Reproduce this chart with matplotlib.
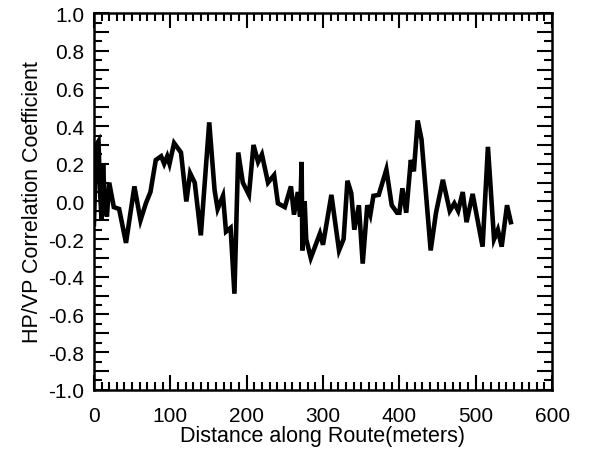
import numpy as np
import matplotlib
matplotlib.use("Agg")
import matplotlib.pyplot as plt
from matplotlib.ticker import MultipleLocator, FuncFormatter

# distance along route (m) and HP/VP correlation coefficient
distance = [0, 3, 6, 8, 10, 12, 14, 17, 20, 26, 33, 42, 53, 61, 68, 74, 81, 88,
            92, 96, 99, 105, 114, 121, 126, 132, 140, 151, 158, 162, 169, 173,
            179, 184, 189, 195, 203, 209, 215, 220, 228, 236, 241, 250, 258, 262,
            267, 270, 272, 273, 276, 278, 284, 296, 300, 311, 321, 327, 332, 337,
            341, 347, 352, 358, 362, 366, 373, 383, 390, 397, 400, 404, 409, 415,
            419, 424, 429, 441, 448, 457, 466, 472, 477, 483, 488, 496, 509, 516,
            524, 529, 534, 541, 546]
corr = [-0.12, 0.30, 0.32, 0.05, -0.10, 0.20, 0.00, -0.08, 0.10, -0.03, -0.04,
        -0.22, 0.08, -0.10, -0.01, 0.05, 0.22, 0.24, 0.20, 0.24, 0.20, 0.31, 0.26,
        0.00, 0.15, 0.10, -0.18, 0.42, 0.06, -0.04, 0.03, -0.16, -0.14, -0.49,
        0.26, 0.10, 0.035, 0.30, 0.21, 0.25, 0.10, 0.14, -0.01, -0.03, 0.08,
        -0.07, 0.05, -0.08, 0.21, -0.26, 0.00, -0.20, -0.30, -0.17, -0.23, 0.035,
        -0.26, -0.20, 0.11, 0.045, -0.15, -0.02, -0.33, -0.02, -0.07, 0.03, 0.035,
        0.17, -0.02, -0.06, -0.06, 0.07, -0.06, 0.22, 0.16, 0.43, 0.33, -0.26,
        -0.06, 0.115, -0.05, -0.01, -0.05, 0.05, -0.11, 0.04, -0.24, 0.29, -0.20,
        -0.15, -0.24, -0.02, -0.11]

x_ticks = [0, 100, 200, 300, 400, 500, 600]

plt.rcParams['font.family'] = ['Liberation Sans', 'DejaVu Sans']

fig = plt.figure(figsize=(6.06, 4.56), dpi=100)
ax = fig.add_axes([0.155, 0.143, 0.756, 0.826])

ax.plot(distance, corr, color='black', lw=3.3, solid_joinstyle='miter')

ax.set_xlim(0, 600)
ax.set_ylim(-1.0, 1.0)
ax.set_xticks(x_ticks)
ax.xaxis.set_minor_locator(MultipleLocator(10))
ax.yaxis.set_major_locator(MultipleLocator(0.1))
ax.yaxis.set_minor_locator(MultipleLocator(0.05))

def ylab(v, pos):
    k = int(round(v * 10))
    return "%.1f" % v if k % 2 == 0 else ""

ax.yaxis.set_major_formatter(FuncFormatter(ylab))

ax.tick_params(which='both', direction='in', top=True, right=True,
               width=1.5, colors='black', labelsize=15)
ax.tick_params(which='major', length=11)
ax.tick_params(axis='x', which='major', pad=12)
ax.tick_params(axis='y', which='major', pad=7)
ax.tick_params(which='minor', length=6)

for s in ax.spines.values():
    s.set_linewidth(1.8)

ax.set_xlabel("Distance along Route(meters)", fontsize=15.5, labelpad=0)
ax.set_ylabel("HP/VP Correlation Coefficient", fontsize=15.5, labelpad=4)

fig.savefig("out.png", dpi=100)
